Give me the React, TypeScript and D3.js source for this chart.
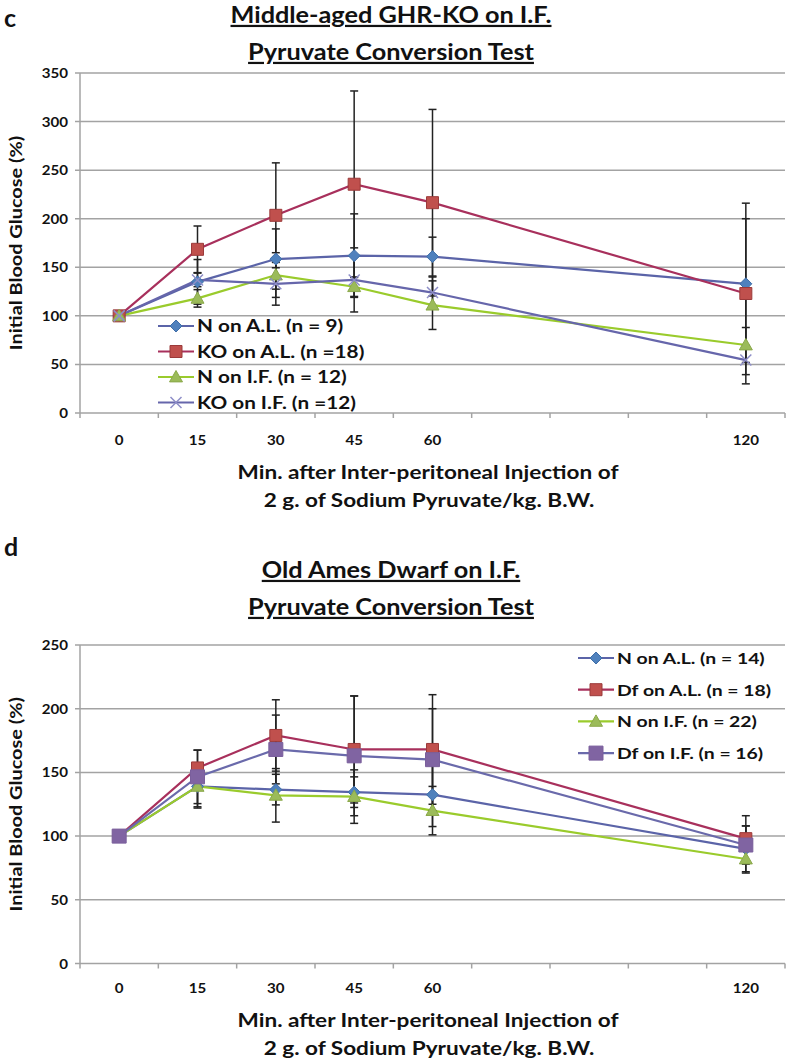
import React from 'react';
import * as d3 from 'd3';

// x axis is categorical: three empty slots between 60 and 120
const categories = ['0', '15', '30', '45', '60', '', '', '', '120'];
const times = ['0', '15', '30', '45', '60', '120'];

// panel c: Middle-aged GHR-KO
const cTicks = [0, 50, 100, 150, 200, 250, 300, 350];
const cNAL = [100, 135, 158.5, 162, 161, 133];
const cNALErr = [0, 23, 31, 43, 20, 67];
const cKOAL = [100, 168.5, 203.5, 235.5, 216.5, 123];
const cKOALErr = [0, 24, 54, 96, 96, 93];
const cNIF = [100, 118, 142, 130, 111, 70];
const cNIFErr = [0, 9, 23, 10, 25, 18];
const cKOIF = [100, 137, 133, 137, 124, 54.5];
const cKOIFErr = [0, 7, 22, 33, 16, 15];
const cLegend = ['N on A.L. (n = 9)', 'KO on A.L. (n =18)', 'N on I.F. (n = 12)', 'KO on I.F. (n =12)'];

// panel d: Old Ames Dwarf
const dTicks = [0, 50, 100, 150, 200, 250];
const dNAL = [100, 139, 136.5, 134.5, 132.5, 90];
const dNALErr = [0, 17, 12, 12, 25, 18];
const dDfAL = [100, 153.5, 179, 168, 168, 98];
const dDfALErr = [0, 14, 28, 42, 43, 18];
const dNIF = [100, 139, 132, 131, 120, 82];
const dNIFErr = [0, 16, 21, 21, 19, 11];
const dDfIF = [100, 146.5, 168, 163, 160, 93];
const dDfIFErr = [0, 21, 27, 47, 40, 15];
const dLegend = ['N on A.L. (n = 14)', 'Df on A.L. (n = 18)', 'N on I.F. (n = 22)', 'Df on I.F. (n = 16)'];

const FONT = "Lato, 'Open Sans', sans-serif";
const GRID = '#a3a3a3';

const styles = {
  nal: { line: '#5b64a8', fill: '#4f81bd', stroke: '#3f6ea8', shape: 'diamond', size: 6 },
  koal: { line: '#a8305c', fill: '#c0504d', stroke: '#9b3a3a', shape: 'square', size: 6 },
  nif: { line: '#9acb2c', fill: '#9bbb59', stroke: '#8aa84a', shape: 'triangle', size: 6.5 },
  koif: { line: '#6666ab', fill: 'none', stroke: '#8e8ec8', shape: 'x', size: 5.5 },
  dfif: { line: '#6a6aab', fill: '#8064a2', stroke: '#7a5f9c', shape: 'square', size: 7 },
};

const markerPath = (shape, s) => {
  if (shape === 'diamond') return `M0,${-s}L${s},0L0,${s}L${-s},0Z`;
  if (shape === 'square') return `M${-s},${-s}H${s}V${s}H${-s}Z`;
  if (shape === 'triangle') return `M0,${-s}L${s},${s * 0.75}L${-s},${s * 0.75}Z`;
  return `M${-s},${-s}L${s},${s}M${-s},${s}L${s},${-s}`;
};

const Marker = ({ x, y, st }) => (
  <path
    transform={`translate(${x},${y})`}
    d={markerPath(st.shape, st.size)}
    fill={st.fill}
    stroke={st.stroke}
    strokeWidth={st.shape === 'x' ? 1.5 : 1}
  />
);

// the source figure is stretched sideways, so text gets a horizontal scale
const SText = ({ x, y, sx = 1, rot = 0, anchor = 'start', size, underline = false, children }) => (
  <text
    transform={`translate(${x},${y})${rot ? ` rotate(${rot})` : ''} scale(${sx},1)`}
    textAnchor={anchor}
    fontFamily={FONT}
    fontWeight="bold"
    fontSize={size}
    fill="#111"
    textDecoration={underline ? 'underline' : undefined}
  >
    {children}
  </text>
);

const Panel = ({ label, labelY, title, titleY, top, bottom, yMax, yTicks, series, legend, legendX, legendY, legendGap, legendSize, legendSx, xLabelY, xTitleY }) => {
  const left = 80, right = 785;
  const x = d3.scaleBand().domain(categories.map((c, i) => i)).range([left, right]);
  const y = d3.scaleLinear().domain([0, yMax]).range([bottom, top]);
  const cx = (t) => x(categories.indexOf(t)) + x.bandwidth() / 2;
  const line = d3.line().x((d) => cx(d.t)).y((d) => y(d.v));
  const edges = d3.range(categories.length + 1).map((i) => left + i * x.step());

  return (
    <g>
      <SText x={4} y={labelY} size={25}>{label}</SText>
      {title.map((t, i) => (
        <SText key={t} x={391} y={titleY + i * 37} sx={1.15} anchor="middle" size={22} underline>{t}</SText>
      ))}

      {yTicks.map((v) => (
        <g key={v}>
          <line x1={left - 5} x2={right} y1={y(v)} y2={y(v)} stroke={GRID} strokeWidth={1.5} />
          <SText x={68} y={y(v) + 5} sx={1.12} anchor="end" size={13.5}>{v}</SText>
        </g>
      ))}
      <line x1={left} x2={left} y1={top} y2={bottom} stroke={GRID} strokeWidth={1.5} />
      {edges.map((e, i) => (
        <line key={i} x1={e} x2={e} y1={bottom} y2={bottom + 5} stroke={GRID} strokeWidth={1.5} />
      ))}
      {categories.map((c, i) => (
        <SText key={i} x={x(i) + x.bandwidth() / 2} y={xLabelY} sx={1.12} anchor="middle" size={13.5}>{c}</SText>
      ))}

      <SText x={22} y={(top + bottom) / 2} rot={-90} sx={1.17} anchor="middle" size={17}>Initial Blood Glucose (%)</SText>
      <SText x={428} y={xTitleY} sx={1.22} anchor="middle" size={18.5}>Min. after Inter-peritoneal Injection of</SText>
      <SText x={429} y={xTitleY + 28} sx={1.22} anchor="middle" size={18.5}>2 g. of Sodium Pyruvate/kg. B.W.</SText>

      {series.map((s, k) => (
        <path key={k} d={line(s.values.map((v, i) => ({ t: times[i], v })))} fill="none" stroke={s.st.line} strokeWidth={2.2} />
      ))}
      {series.map((s, k) => (
        <g key={k} stroke="#222" strokeWidth={1.5}>
          {s.values.map((v, i) => s.err[i] > 0 && (
            <g key={i}>
              <line x1={cx(times[i])} x2={cx(times[i])} y1={y(v - s.err[i])} y2={y(v + s.err[i])} />
              <line x1={cx(times[i]) - 4} x2={cx(times[i]) + 4} y1={y(v + s.err[i])} y2={y(v + s.err[i])} />
              <line x1={cx(times[i]) - 4} x2={cx(times[i]) + 4} y1={y(v - s.err[i])} y2={y(v - s.err[i])} />
            </g>
          ))}
        </g>
      ))}
      {series.map((s, k) => (
        <g key={k}>
          {s.values.map((v, i) => <Marker key={i} x={cx(times[i])} y={y(v)} st={s.st} />)}
        </g>
      ))}

      {series.map((s, k) => {
        const ly = legendY + k * legendGap;
        return (
          <g key={k}>
            <line x1={legendX} x2={legendX + 36} y1={ly} y2={ly} stroke={s.st.line} strokeWidth={2.2} />
            <Marker x={legendX + 18} y={ly} st={s.st} />
            <SText x={legendX + 39} y={ly + 6} sx={legendSx} size={legendSize}>{legend[k]}</SText>
          </g>
        );
      })}
    </g>
  );
};

export default function App() {
  const cSeries = [
    { values: cNAL, err: cNALErr, st: styles.nal },
    { values: cKOAL, err: cKOALErr, st: styles.koal },
    { values: cNIF, err: cNIFErr, st: styles.nif },
    { values: cKOIF, err: cKOIFErr, st: styles.koif },
  ];
  const dSeries = [
    { values: dNAL, err: dNALErr, st: styles.nal },
    { values: dDfAL, err: dDfALErr, st: styles.koal },
    { values: dNIF, err: dNIFErr, st: styles.nif },
    { values: dDfIF, err: dDfIFErr, st: styles.dfif },
  ];
  return (
    <svg width={787} height={1059} style={{ position: 'absolute', left: 0, top: 0, background: '#fff' }}>
      <Panel label="c" labelY={27} title={['Middle-aged GHR-KO on I.F.', 'Pyruvate Conversion Test']} titleY={23}
        top={73} bottom={413} yMax={350} yTicks={cTicks} series={cSeries} legend={cLegend}
        legendX={158} legendY={326} legendGap={25.5} legendSize={17} legendSx={1.22} xLabelY={445} xTitleY={479} />
      <Panel label="d" labelY={556} title={['Old Ames Dwarf on I.F.', 'Pyruvate Conversion Test']} titleY={578}
        top={645} bottom={963.5} yMax={250} yTicks={dTicks} series={dSeries} legend={dLegend}
        legendX={578} legendY={658} legendGap={31.7} legendSize={15.5} legendSx={1.25} xLabelY={993} xTitleY={1027} />
    </svg>
  );
}
